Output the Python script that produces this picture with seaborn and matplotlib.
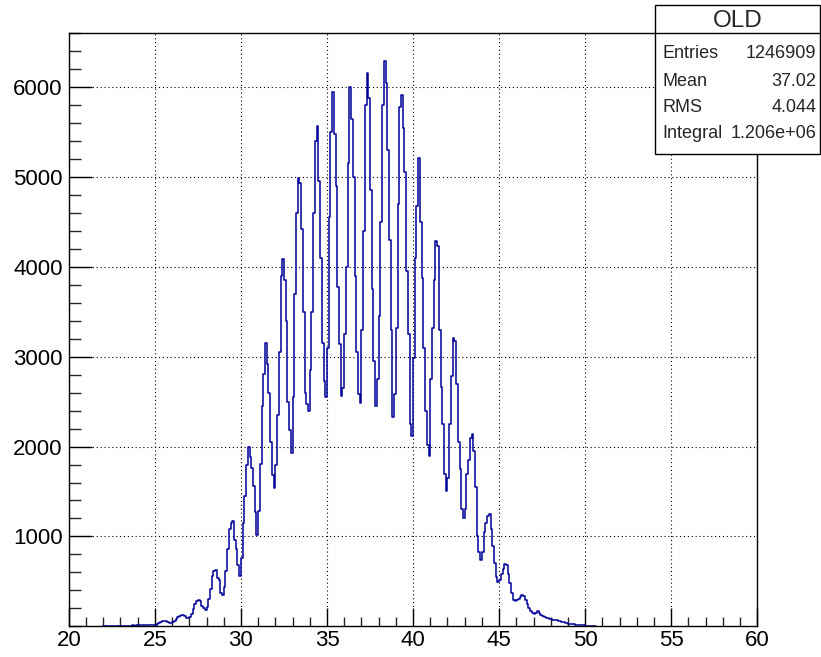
import numpy as np
import pandas as pd
import matplotlib
matplotlib.use("Agg")
import matplotlib.pyplot as plt
import seaborn as sns
from matplotlib.ticker import MultipleLocator, FixedLocator
from matplotlib.patches import Rectangle
from matplotlib.lines import Line2D

# ---------------- data ----------------
first_edge = 22.0
bin_width = 0.1
counts = [
    0, 0, 0, 0, 2, 3, 2, 4, 3, 5,                                   # 22
    4, 6, 5, 7, 6, 8, 7, 9, 8, 10,                                  # 23
    9, 11, 12, 10, 13, 12, 15, 14, 17, 16,                          # 24
    20, 26, 35, 48, 58, 62, 55, 45, 42, 38,                         # 25
    45, 60, 80, 100, 118, 125, 128, 110, 95, 92,                    # 26
    108, 140, 190, 250, 285, 296, 280, 230, 200, 185,               # 27
    210, 300, 420, 560, 610, 630, 540, 510, 370, 350,               # 28
    440, 620, 860, 1080, 1150, 1175, 960, 860, 680, 565,            # 29
    760, 1150, 1450, 1800, 1990, 1880, 1760, 1560, 1270, 1020,      # 30
    1280, 1810, 2450, 2810, 3150, 2920, 2600, 2050, 1680, 1540,     # 31
    1800, 2350, 3050, 3900, 4090, 3850, 3400, 2500, 2180, 1930,     # 32
    2550, 3700, 4600, 4990, 4930, 4420, 3500, 2600, 2470, 2400,     # 33
    2850, 3500, 4600, 5400, 5570, 4950, 4100, 3150, 2730, 2550,     # 34
    3100, 4550, 5500, 5950, 5480, 4900, 3770, 3140, 2560, 2650,     # 35
    3250, 4000, 5150, 6000, 5650, 5000, 3900, 3050, 2580, 2490,     # 36
    3300, 4400, 5800, 6160, 5880, 4850, 3750, 2950, 2450, 2750,     # 37
    3450, 4500, 5800, 6290, 6050, 5300, 4300, 3300, 2330, 2580,     # 38
    3320, 4700, 5780, 5910, 5550, 5050, 3950, 3250, 2250, 2120,     # 39
    2990, 4100, 4680, 5210, 4500, 3880, 3100, 2400, 2020, 1890,     # 40
    2750, 3320, 3850, 4290, 4230, 3300, 2660, 2250, 1700, 1500,     # 41
    1650, 2250, 2780, 3210, 3180, 2700, 2050, 1750, 1300, 1200,     # 42
    1300, 1700, 1850, 2100, 2140, 1950, 1550, 1000, 830, 740,       # 43
    830, 1050, 1150, 1230, 1250, 1080, 890, 700, 545, 490,          # 44
    520, 580, 640, 690, 685, 580, 480, 370, 290, 281,               # 45
    288, 307, 326, 345, 333, 290, 245, 200, 170, 145,               # 46
    140, 150, 165, 150, 130, 115, 103, 96, 90, 82,                  # 47
    78, 75, 70, 67, 60, 55, 50, 44, 38, 33,                         # 48
    28, 25, 23, 21, 19, 18, 15, 13, 11, 9,                          # 49
    7, 7, 6, 5, 4, 2,                                               # 50
]
x_range = [20, 60]
x_major = [20, 25, 30, 35, 40, 45, 50, 55, 60]
y_major = [1000, 2000, 3000, 4000, 5000, 6000]
y_top = 6605

stats_title = "OLD"
stats_labels = ["Entries", "Mean", "RMS", "Integral"]
stats_values = ["1246909", "37.02", "4.044", "1.206e+06"]

# ---------------- build ----------------
n = len(counts)
centers = first_edge + bin_width * (np.arange(n) + 0.5)
df = pd.DataFrame({"x": centers, "w": counts})

sns.set_theme(style="white")
plt.rcParams["font.family"] = ["Liberation Sans", "DejaVu Sans"]

W, H = 821, 657
fig = plt.figure(figsize=(W / 100, H / 100), dpi=100)
ax_l, ax_r, ax_t, ax_b = 68.8, 757.3, 32.7, 626.3
ax = fig.add_axes([ax_l / W, 1 - ax_b / H, (ax_r - ax_l) / W, (ax_b - ax_t) / H])

sns.histplot(data=df, x="x", weights="w", binwidth=bin_width,
             binrange=(first_edge, first_edge + n * bin_width), element="step",
             fill=False, color="#000099", linewidth=1.1, ax=ax)

ax.set_xlim(*x_range)
ax.set_ylim(0, y_top)
ax.set_xlabel("")
ax.set_ylabel("")

ax.xaxis.set_major_locator(FixedLocator(x_major))
ax.xaxis.set_minor_locator(MultipleLocator(1))
ax.yaxis.set_major_locator(FixedLocator(y_major))
ax.yaxis.set_minor_locator(MultipleLocator(200))
ax.set_xticklabels([str(v) for v in x_major])
ax.set_yticklabels([str(v) for v in y_major])

ax.grid(True, which="major", color="black", linestyle=(0, (1, 2.5)), linewidth=0.8)

ax.tick_params(axis="x", which="major", direction="in", length=12.8, width=1,
               labelsize=16, pad=2.5, colors="black", bottom=True, top=False)
ax.tick_params(axis="x", which="minor", direction="in", length=6.5, width=1,
               bottom=True, top=False)
ax.tick_params(axis="y", which="major", direction="in", length=16.3, width=1,
               labelsize=16, pad=4.5, colors="black", left=True, right=False)
ax.tick_params(axis="y", which="minor", direction="in", length=8.4, width=1,
               left=True, right=False)
for s in ax.spines.values():
    s.set_visible(True)
    s.set_color("black")
    s.set_linewidth(1.0)

# ---------------- stats box ----------------
bx_l, bx_r, bx_t, bx_b, bx_sep = 655, 820, 5, 154, 33
fig.add_artist(Rectangle((bx_l / W, 1 - bx_b / H), (bx_r - bx_l) / W, (bx_b - bx_t) / H,
                         transform=fig.transFigure, facecolor="white",
                         edgecolor="black", linewidth=1.0, zorder=10))
fig.add_artist(Line2D([bx_l / W, bx_r / W], [1 - bx_sep / H] * 2,
                      transform=fig.transFigure, color="black", linewidth=1.0, zorder=11))
fig.text((bx_l + bx_r) / 2 / W, 1 - 21 / H, stats_title, ha="center", va="center",
         fontsize=17.5, zorder=12)
row_y = [53, 81, 107.5, 134]
for lab, val, yy in zip(stats_labels, stats_values, row_y):
    fig.text(662 / W, 1 - yy / H, lab, ha="left", va="center", fontsize=13, zorder=12)
    fig.text(816.5 / W, 1 - yy / H, val, ha="right", va="center", fontsize=13, zorder=12)

fig.savefig("out.png", dpi=100, facecolor="white")
